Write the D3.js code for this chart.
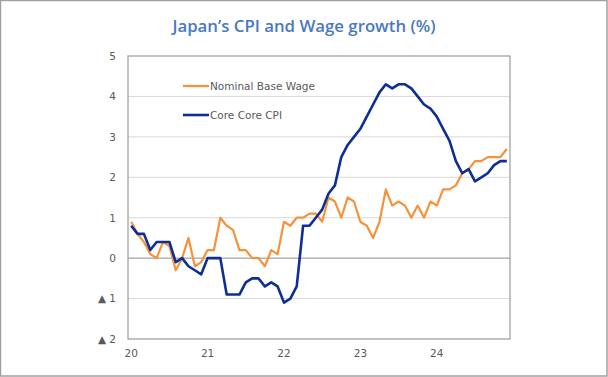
<!DOCTYPE html>
<html>
<head>
<meta charset="utf-8">
<script src="https://cdn.jsdelivr.net/npm/d3@7"></script>
<style>
  html, body { margin: 0; padding: 0; background: #fff; }
  svg { display: block; }
</style>
</head>
<body>
<svg id="chart" width="608" height="377"></svg>
<script>
const months = [];
const years = ["20", "21", "22", "23", "24"];
years.forEach(y => { for (let m = 1; m <= 12; m++) months.push(y + "-" + m); });

const wage = [
  0.9, 0.6, 0.4, 0.1, 0.0, 0.4, 0.3, -0.3, 0.0, 0.5, -0.2, -0.1,
  0.2, 0.2, 1.0, 0.8, 0.7, 0.2, 0.2, 0.0, 0.0, -0.2, 0.2, 0.1,
  0.9, 0.8, 1.0, 1.0, 1.1, 1.1, 0.9, 1.5, 1.4, 1.0, 1.5, 1.4,
  0.9, 0.8, 0.5, 0.9, 1.7, 1.3, 1.4, 1.3, 1.0, 1.3, 1.0, 1.4,
  1.3, 1.7, 1.7, 1.8, 2.1, 2.2, 2.4, 2.4, 2.5, 2.5, 2.5, 2.7
];
const cpi = [
  0.8, 0.6, 0.6, 0.2, 0.4, 0.4, 0.4, -0.1, 0.0, -0.2, -0.3, -0.4,
  0.0, 0.0, 0.0, -0.9, -0.9, -0.9, -0.6, -0.5, -0.5, -0.7, -0.6, -0.7,
  -1.1, -1.0, -0.7, 0.8, 0.8, 1.0, 1.2, 1.6, 1.8, 2.5, 2.8, 3.0,
  3.2, 3.5, 3.8, 4.1, 4.3, 4.2, 4.3, 4.3, 4.2, 4.0, 3.8, 3.7,
  3.5, 3.2, 2.9, 2.4, 2.1, 2.2, 1.9, 2.0, 2.1, 2.3, 2.4, 2.4
];
const yTicks = [-2, -1, 0, 1, 2, 3, 4, 5];
const yTickLabels = ["▲ 2", "▲ 1", "0", "1", "2", "3", "4", "5"];
const seriesNames = ["Nominal Base Wage", "Core Core CPI"];
const seriesColors = ["#F7923A", "#0D2E96"];

const svg = d3.select("#chart");
const W = 608, H = 377;
const m = { left: 128, right: 98, top: 56, bottom: 38 };
const iw = W - m.left - m.right, ih = H - m.top - m.bottom;

// outer frame
svg.append("rect").attr("x", 0.5).attr("y", 0.5).attr("width", W - 1.5).attr("height", H - 1.5)
  .attr("fill", "none").attr("stroke", "#a0a0a0").attr("stroke-width", 1.5);

// title
svg.append("text").attr("x", 304).attr("y", 32).attr("text-anchor", "middle")
  .attr("font-family", "'Open Sans', sans-serif").attr("font-weight", 600).attr("font-size", 16.8)
  .attr("fill", "#4A78C2").text("Japan’s CPI and Wage growth (%)");

const g = svg.append("g").attr("transform", `translate(${m.left},${m.top})`);

const x = d3.scaleBand().domain(months).range([0, iw]);
const xc = d => x(d) + x.bandwidth() / 2;
const y = d3.scaleLinear().domain([-2, 5]).range([ih, 0]);

// gridlines
g.append("g").selectAll("line").data(yTicks.filter(t => t !== 0 && t !== 5 && t !== -2)).join("line")
  .attr("x1", 0).attr("x2", iw).attr("y1", d => y(d)).attr("y2", d => y(d))
  .attr("stroke", "#d9d9d9").attr("stroke-width", 1);

// zero line
g.append("line").attr("x1", 0).attr("x2", iw).attr("y1", y(0)).attr("y2", y(0))
  .attr("stroke", "#8c8c8c").attr("stroke-width", 1);

// plot border
g.append("rect").attr("x", 0).attr("y", 0).attr("width", iw).attr("height", ih)
  .attr("fill", "none").attr("stroke", "#9a9a9a").attr("stroke-width", 1.2);

// y axis labels
const yAxis = d3.axisLeft(y).tickValues(yTicks).tickSize(0).tickPadding(12)
  .tickFormat((d, i) => yTickLabels[yTicks.indexOf(d)]);
const ya = g.append("g").call(yAxis);
ya.select(".domain").remove();
ya.selectAll("text").attr("font-family", "'DejaVu Sans', Verdana, sans-serif").attr("font-size", 10.5).attr("fill", "#595959");

// x axis labels (January of each year)
const xAxis = d3.axisBottom(x).tickValues(years.map(yv => yv + "-1")).tickSize(0).tickPadding(11)
  .tickFormat(d => d.split("-")[0]);
const xa = g.append("g").attr("transform", `translate(0,${ih})`).call(xAxis);
xa.select(".domain").remove();
xa.selectAll("text").attr("font-family", "'DejaVu Sans', Verdana, sans-serif").attr("font-size", 10.5).attr("fill", "#595959");

// lines
const line = d3.line().x((d, i) => xc(months[i])).y(d => y(d));
g.append("path").datum(wage).attr("d", line).attr("fill", "none")
  .attr("stroke", seriesColors[0]).attr("stroke-width", 2.2).attr("stroke-linejoin", "round");
g.append("path").datum(cpi).attr("d", line).attr("fill", "none")
  .attr("stroke", seriesColors[1]).attr("stroke-width", 2.6).attr("stroke-linejoin", "round");

// legend
const leg = svg.append("g");
seriesNames.forEach((n, i) => {
  const ly = 86 + i * 29;
  leg.append("line").attr("x1", 183).attr("x2", 209).attr("y1", ly).attr("y2", ly)
    .attr("stroke", seriesColors[i]).attr("stroke-width", i === 0 ? 2.2 : 2.6);
  leg.append("text").attr("x", 210).attr("y", ly + 4)
    .attr("font-family", "'DejaVu Sans', Verdana, sans-serif").attr("font-size", 10.5)
    .attr("fill", "#595959").text(n);
});
</script>
</body>
</html>
